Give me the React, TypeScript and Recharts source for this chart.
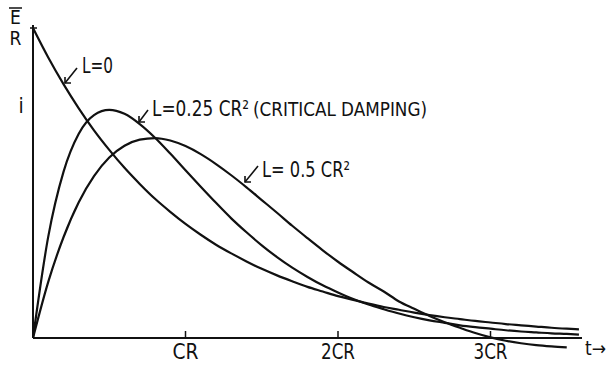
import { LineChart, Line, XAxis, YAxis, ReferenceLine, ReferenceDot } from 'recharts'

// time in units of CR
const tValues = [
  0, 0.1, 0.2, 0.3, 0.4, 0.5, 0.6, 0.7, 0.8, 0.9, 1.0, 1.1, 1.2, 1.3, 1.4, 1.5, 1.6, 1.7, 1.8,
  1.9, 2.0, 2.1, 2.2, 2.3, 2.4, 2.5, 2.6, 2.7, 2.8, 2.9, 3.0, 3.1, 3.2, 3.3, 3.4, 3.5, 3.58,
]

// current in units of E/R
const iNoInductance = [
  1, 0.905, 0.819, 0.741, 0.67, 0.607, 0.549, 0.497, 0.449, 0.407, 0.368, 0.333, 0.301, 0.273,
  0.247, 0.223, 0.202, 0.183, 0.165, 0.15, 0.135, 0.123, 0.111, 0.1, 0.091, 0.082, 0.074, 0.067,
  0.061, 0.055, 0.05, 0.045, 0.041, 0.037, 0.033, 0.03, 0.028,
]

const iCritical = [
  0, 0.327, 0.536, 0.659, 0.719, 0.736, 0.723, 0.69, 0.646, 0.595, 0.541, 0.488, 0.436, 0.386,
  0.341, 0.299, 0.261, 0.227, 0.197, 0.17, 0.147, 0.126, 0.108, 0.093, 0.079, 0.067, 0.057,
  0.049, 0.041, 0.035, 0.03, 0.025, 0.021, 0.018, 0.015, 0.013, 0.011,
]

const iHalf = [
  0, 0.181, 0.325, 0.438, 0.522, 0.582, 0.62, 0.64, 0.645, 0.637, 0.619, 0.593, 0.561, 0.525,
  0.486, 0.445, 0.404, 0.362, 0.322, 0.283, 0.246, 0.212, 0.179, 0.15, 0.118, 0.094, 0.071,
  0.051, 0.033, 0.016, 0.002, -0.009, -0.017, -0.023, -0.027, -0.03, null,
]

const xTicks = [1, 2, 3]
const xTickLabels = ['CR', '2CR', '3CR']

const data = tValues.map((t, k) => ({
  t,
  l0: iNoInductance[k],
  crit: iCritical[k],
  half: iHalf[k],
}))

const FONT = '"DejaVu Sans Condensed", "Liberation Sans Narrow", "DejaVu Sans", sans-serif'
const INK = '#111'

function xTickShape(label: string) {
  return (props: any) => {
    const { cx, cy } = props
    return (
      <g>
        <line x1={cx} y1={cy - 7} x2={cx} y2={cy} stroke={INK} strokeWidth={1.5} />
        <text
          x={cx}
          y={cy + 21}
          textAnchor="middle"
          fontFamily={FONT}
          fontSize={21}
          fill={INK}
          textLength={label.length === 2 ? 26 : 34}
          lengthAdjust="spacingAndGlyphs"
        >
          {label}
        </text>
      </g>
    )
  }
}

function UnitTick(props: any) {
  const { cx, cy } = props
  return (
    <g>
      <line x1={cx - 3} y1={cy} x2={cx + 4} y2={cy} stroke={INK} strokeWidth={1.5} />
      <line x1={9} y1={cy - 20} x2={22} y2={cy - 20} stroke={INK} strokeWidth={1.5} />
      <text x={15.5} y={cy - 4} textAnchor="middle" fontFamily={FONT} fontSize={19} fill={INK}>
        E
      </text>
      <text x={15.5} y={cy + 17} textAnchor="middle" fontFamily={FONT} fontSize={19} fill={INK}>
        R
      </text>
    </g>
  )
}

function Leader({ x1, y1, x2, y2 }: { x1: number; y1: number; x2: number; y2: number }) {
  return (
    <g stroke={INK} strokeWidth={1.6} fill="none">
      <line x1={x1} y1={y1} x2={x2} y2={y2} />
      <path d={`M${x1} ${y1 - 6} L${x1} ${y1} L${x1 + 6} ${y1}`} />
    </g>
  )
}

function Annotations() {
  const txt = { fontFamily: FONT, fill: INK, lengthAdjust: 'spacingAndGlyphs' as const }
  return (
    <svg
      width={608}
      height={366}
      style={{ position: 'absolute', left: 0, top: 0, pointerEvents: 'none' }}
    >
      <text x={21} y={113} textAnchor="middle" fontSize={21} {...txt}>
        i
      </text>

      <Leader x1={65} y1={83} x2={77} y2={68} />
      <text x={82} y={73} fontSize={21} textLength={31} {...txt}>
        L=0
      </text>

      <Leader x1={139} y1={122} x2={148} y2={110} />
      <text x={152} y={116} fontSize={21} textLength={97} {...txt}>
        L=0.25 CR²
      </text>
      <text x={253} y={116} fontSize={20} textLength={174} {...txt}>
        (CRITICAL DAMPING)
      </text>

      <Leader x1={245} y1={182} x2={258} y2={166} />
      <text x={262} y={177} fontSize={21} textLength={88} {...txt}>
        L= 0.5 CR²
      </text>

      <text x={585} y={355} fontSize={19} {...txt}>
        t→
      </text>
    </svg>
  )
}

export default function App() {
  return (
    <div style={{ position: 'absolute', left: 0, top: 0, width: 608, height: 366, background: '#fff' }}>
      <LineChart width={608} height={366} data={data} margin={{ top: 28, right: 26, bottom: 15.6, left: 33 }}>
        <XAxis dataKey="t" type="number" domain={[0, 3.6]} hide allowDataOverflow />
        <YAxis type="number" domain={[-0.04, 1]} hide allowDataOverflow />
        <ReferenceLine
          segment={[{ x: 0, y: 0 }, { x: 3.6, y: 0 }]}
          stroke={INK}
          strokeWidth={2}
          ifOverflow="visible"
        />
        <ReferenceLine
          segment={[{ x: 0, y: 0 }, { x: 0, y: 1.01 }]}
          stroke={INK}
          strokeWidth={2}
          ifOverflow="visible"
        />
        {xTicks.map((t, k) => (
          <ReferenceDot key={t} x={t} y={0} r={0} shape={xTickShape(xTickLabels[k])} ifOverflow="visible" />
        ))}
        <ReferenceDot x={0} y={1} r={0} shape={UnitTick} ifOverflow="visible" />
        <Line dataKey="l0" type="monotone" stroke={INK} strokeWidth={2.2} dot={false} isAnimationActive={false} />
        <Line dataKey="crit" type="monotone" stroke={INK} strokeWidth={2.2} dot={false} isAnimationActive={false} />
        <Line dataKey="half" type="monotone" stroke={INK} strokeWidth={2.2} dot={false} isAnimationActive={false} />
      </LineChart>
      <Annotations />
    </div>
  )
}
